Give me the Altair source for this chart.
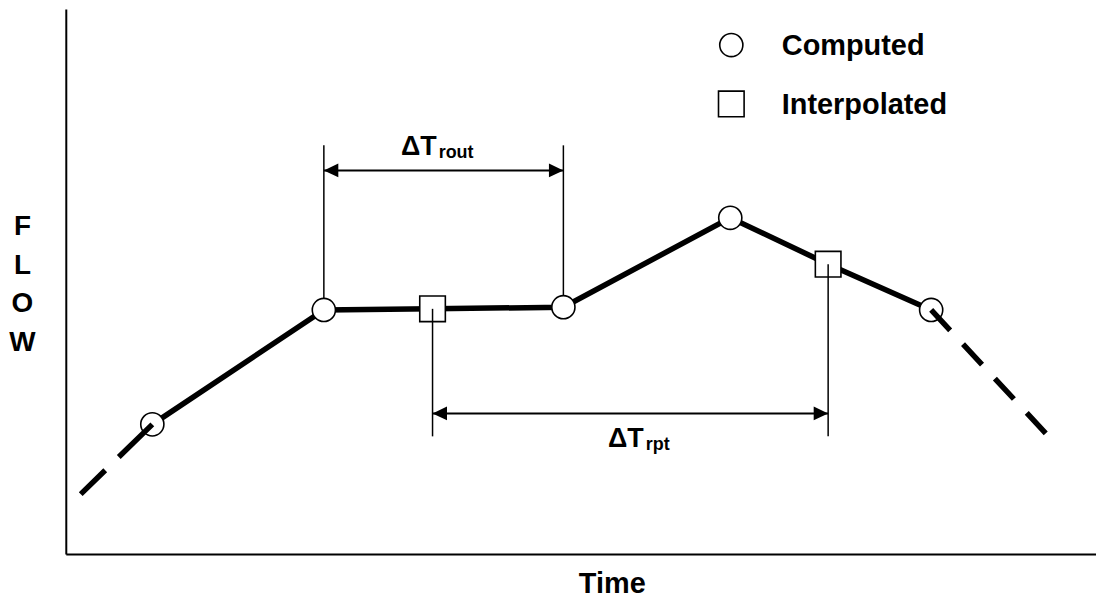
import altair as alt
import pandas as pd

FONT = "Liberation Sans"

# Main flow hydrograph points
time = [8.4, 25.05, 35.6, 48.3, 64.5, 74.0, 84.0]
flow = [23.8, 44.8, 45.0, 45.3, 61.7, 53.2, 44.8]
kind = ["Computed", "Computed", "Interpolated", "Computed", "Computed", "Interpolated", "Computed"]

# Dashed extensions beyond the computed range
ext_time = [1.45, 8.4, 84.0, 95.2]
ext_flow = [11.0, 23.8, 44.8, 22.0]
ext_seg = ["start", "start", "end", "end"]

# Interval dimensions (point indices), extension levels, arrow levels
dim_names = ["rout", "rpt"]
dim_from = [1, 2]
dim_to = [3, 5]
dim_ext = [75.0, 21.6]
dim_arrow = [70.4, 25.8]
dim_label_t = [36.0, 56.1]
dim_label_f = [73.3, 19.6]

# Legend entries (key placed in the upper right of the plot)
legend_kinds = ["Computed", "Interpolated"]
legend_f = [93.4, 82.6]
legend_sym_t = 64.6
legend_txt_t = 69.5

pts = pd.DataFrame({"t": time, "f": flow, "kind": kind})
ext = pd.DataFrame({"t": ext_time, "f": ext_flow, "seg": ext_seg})
leg = pd.DataFrame({"kind": legend_kinds, "f": legend_f,
                    "t": [legend_sym_t] * 2, "tt": [legend_txt_t] * 2})

vert_rows, arrow_rows, label_rows = [], [], []
for n, a, b, e, ar, lt, lf in zip(dim_names, dim_from, dim_to, dim_ext, dim_arrow, dim_label_t, dim_label_f):
    for i in (a, b):
        vert_rows.append({"dim": n, "t": time[i], "f": flow[i], "f2": e})
    arrow_rows.append({"dim": n, "t": time[a], "t2": time[b], "f": ar})
    label_rows.append({"dim": n, "t": lt, "f": lf, "main": "\u0394T", "sub": n})
verts = pd.DataFrame(vert_rows)
arrows = pd.DataFrame(arrow_rows)
labels = pd.DataFrame(label_rows)

xs = alt.Scale(domain=[0, 100], nice=False, zero=False)
ys = alt.Scale(domain=[0, 100], nice=False, zero=False)

xaxis = alt.Axis(title="Time", ticks=False, labels=False, grid=False,
                 domainColor="black", domainWidth=2,
                 titleFont=FONT, titleFontSize=29, titleFontWeight="bold", titleColor="black",
                 titleX=548, titleY=39, titleAlign="center", titleBaseline="alphabetic")
yaxis = alt.Axis(title=["F", "L", "O", "W"], ticks=False, labels=False, grid=False,
                 domainColor="black", domainWidth=2,
                 titleFont=FONT, titleFontSize=28, titleFontWeight="bold", titleColor="black",
                 titleAngle=0, titleLineHeight=39, titleX=-44, titleY=218,
                 titleAlign="center", titleBaseline="middle")

shape_scale = alt.Scale(domain=["Computed", "Interpolated"], range=["circle", "square"])
size_scale = alt.Scale(domain=["Computed", "Interpolated"], range=[540, 660])


def X(field="t"):
    return alt.X(f"{field}:Q", scale=xs, axis=xaxis)


def Y(field="f"):
    return alt.Y(f"{field}:Q", scale=ys, axis=yaxis)


main_line = alt.Chart(pts).mark_line(color="black", strokeWidth=5.5).encode(x=X(), y=Y(), order="t:Q")

vert_below = alt.Chart(verts).transform_filter(alt.datum.dim == "rout").mark_rule(
    color="black", strokeWidth=1.5).encode(x=X(), y=Y(), y2="f2:Q")


def marker_layer(df):
    return alt.Chart(df).mark_point(filled=False, fill="white", stroke="black", color="black",
                                    strokeWidth=1.6, opacity=1).encode(
        x=X(), y=Y(),
        shape=alt.Shape("kind:N", scale=shape_scale, legend=None),
        size=alt.Size("kind:N", scale=size_scale, legend=None))


markers = marker_layer(pts)
legend_marks = marker_layer(leg)
legend_text = alt.Chart(leg).mark_text(font=FONT, fontSize=29, fontWeight="bold", color="black",
                                       align="left", baseline="middle", dy=1).encode(
    x=X("tt"), y=Y(), text="kind:N")

vert_above = alt.Chart(verts).transform_filter(alt.datum.dim == "rpt").mark_rule(
    color="black", strokeWidth=1.5).encode(x=X(), y=Y(), y2="f2:Q")

dashed_start = alt.Chart(ext).transform_filter(alt.datum.seg == "start").mark_line(
    color="black", strokeWidth=5.5, strokeDash=[47, 19]).encode(
    x=X(), y=Y(), order=alt.Order("t:Q", sort="descending"))
dashed_end = alt.Chart(ext).transform_filter(alt.datum.seg == "end").mark_line(
    color="black", strokeWidth=5.5, strokeDash=[28, 19]).encode(
    x=X(), y=Y(), order=alt.Order("t:Q", sort="ascending"))

arrow_lines = alt.Chart(arrows).mark_rule(color="black", strokeWidth=2).encode(
    x=X(), x2="t2:Q", y=Y())

head_left = alt.Chart(arrows).mark_point(shape="M0,0L2,-0.95L2,0.95Z", size=210, filled=True,
                                         color="black", opacity=1).encode(x=X(), y=Y())
head_right = alt.Chart(arrows).mark_point(shape="M0,0L-2,-0.95L-2,0.95Z", size=210, filled=True,
                                          color="black", opacity=1).encode(x=X("t2"), y=Y())

label_main = alt.Chart(labels).mark_text(font=FONT, fontSize=27, fontWeight="bold", color="black",
                                         align="right", baseline="alphabetic").encode(
    x=X(), y=Y(), text="main:N")
label_sub = alt.Chart(labels).mark_text(font=FONT, fontSize=18, fontWeight="bold", color="black",
                                        align="left", baseline="alphabetic", dx=2, dy=3).encode(
    x=X(), y=Y(), text="sub:N")

chart = alt.layer(
    main_line, vert_below, markers, vert_above, dashed_start, dashed_end, arrow_lines,
    head_left, head_right, label_main, label_sub, legend_marks, legend_text
).properties(
    width=1034, height=547,
    autosize=alt.AutoSizeParams(type="none"),
    padding={"left": 58, "top": 0, "right": 0, "bottom": 45},
    background="white",
).configure_view(stroke=None)

chart.save("out.html", embed_options={"renderer": "svg", "actions": False})
